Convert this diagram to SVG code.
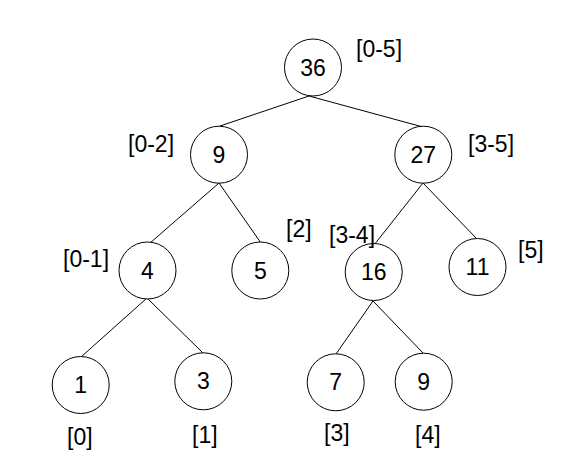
<svg xmlns="http://www.w3.org/2000/svg" width="574" height="460" viewBox="0 0 574 460">
<style>
.n circle{fill:#fff;stroke:#000;stroke-width:1}
.n text{font-family:"Liberation Sans",Arial,sans-serif;font-size:23px;text-anchor:middle;fill:#000}
.lbl{font-family:"Liberation Sans",Arial,sans-serif;font-size:23px;fill:#000}
.e line{stroke:#000;stroke-width:1}
</style>
<rect width="574" height="460" fill="#fff"/>
<g class="e" id="connectors">
<line x1="309" y1="96" x2="220" y2="126"/>
<line x1="309" y1="96" x2="423" y2="127"/>
<line x1="219" y1="183" x2="150" y2="243"/>
<line x1="219" y1="183" x2="261" y2="243"/>
<line x1="423" y1="183" x2="374" y2="245"/>
<line x1="423" y1="183" x2="477" y2="239"/>
<line x1="147" y1="298" x2="81" y2="357"/>
<line x1="147" y1="298" x2="203" y2="353"/>
<line x1="373" y1="301" x2="336" y2="354"/>
<line x1="373" y1="301" x2="423" y2="353"/>
</g>
<g class="n" id="n36"><circle cx="313" cy="67.5" r="28.5"/><text x="313" y="75.5">36</text></g>
<g class="n" id="n9a"><circle cx="219" cy="154.7" r="28.5"/><text x="219" y="162.7">9</text></g>
<g class="n" id="n27"><circle cx="423.3" cy="154.7" r="28.5"/><text x="423.3" y="162.7">27</text></g>
<g class="n" id="n4"><circle cx="147.5" cy="270.5" r="28.5"/><text x="147.5" y="278.5">4</text></g>
<g class="n" id="n5"><circle cx="260.3" cy="270.5" r="28.5"/><text x="260.3" y="278.5">5</text></g>
<g class="n" id="n16"><circle cx="373.7" cy="272" r="28.5"/><text x="373.7" y="280">16</text></g>
<g class="n" id="n11"><circle cx="477.5" cy="267" r="28.5"/><text x="477.5" y="275">11</text></g>
<g class="n" id="n1"><circle cx="80.7" cy="385" r="28.5"/><text x="80.7" y="393">1</text></g>
<g class="n" id="n3"><circle cx="203.3" cy="381.3" r="28.5"/><text x="203.3" y="389.3">3</text></g>
<g class="n" id="n7"><circle cx="335.7" cy="382.3" r="28.5"/><text x="335.7" y="390.3">7</text></g>
<g class="n" id="n9b"><circle cx="423.7" cy="381.7" r="28.5"/><text x="423.7" y="389.7">9</text></g>
<g id="labels">
<text class="lbl" x="356" y="57">[0-5]</text>
<text class="lbl" x="128" y="151.5">[0-2]</text>
<text class="lbl" x="468" y="152">[3-5]</text>
<text class="lbl" x="63" y="267">[0-1]</text>
<text class="lbl" x="286" y="237">[2]</text>
<text class="lbl" x="329" y="243">[3-4]</text>
<text class="lbl" x="518" y="258">[5]</text>
<text class="lbl" x="67" y="445">[0]</text>
<text class="lbl" x="192" y="443">[1]</text>
<text class="lbl" x="324" y="441">[3]</text>
<text class="lbl" x="415" y="443">[4]</text>
</g>
</svg>
